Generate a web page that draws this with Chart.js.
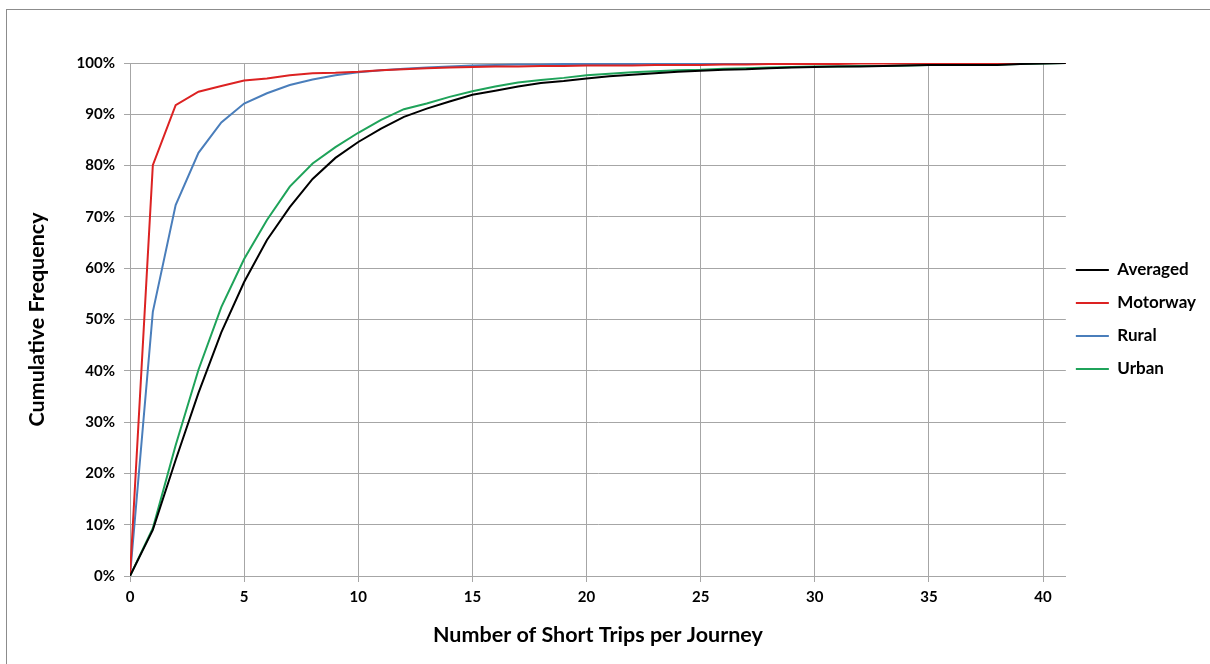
<!DOCTYPE html>
<html>
<head>
<meta charset="utf-8">
<script src="https://cdn.jsdelivr.net/npm/chart.js@4"></script>
<style>
  html, body { margin: 0; padding: 0; background: #fff; overflow: hidden; }
  #wrap { position: relative; width: 1210px; height: 664px; }
  #frame {
    position: absolute; left: 6px; top: 9px; width: 1400px; height: 900px;
    border: 1px solid #8c8c8c; pointer-events: none;
  }
  canvas { position: absolute; left: 0; top: 0; }
</style>
</head>
<body>
<div id="wrap">
  <div id="frame"></div>
  <canvas id="chart" width="1210" height="664"></canvas>
</div>
<script>
  // number of short trips per journey (x values)
  var tripCounts = [0, 1, 2, 3, 4, 5, 6, 7, 8, 9, 10, 11, 12, 13, 14, 15, 16, 17, 18, 19, 20,
                    21, 22, 23, 24, 25, 26, 27, 28, 29, 30, 31, 32, 33, 34, 35, 36, 37, 38, 39, 40, 41];

  // cumulative frequency, percent
  var averaged = [0, 9.0, 22.6, 35.7, 47.5, 57.3, 65.5, 71.9, 77.4, 81.5, 84.6, 87.2, 89.5, 91.1, 92.5,
                  93.8, 94.6, 95.4, 96.1, 96.5, 97.0, 97.4, 97.7, 98.0, 98.3, 98.5, 98.7, 98.8, 99.0,
                  99.1, 99.2, 99.3, 99.3, 99.4, 99.5, 99.6, 99.6, 99.6, 99.6, 99.8, 99.9, 100];
  var motorway = [0, 80.1, 91.8, 94.4, 95.5, 96.6, 97.0, 97.6, 98.0, 98.1, 98.3, 98.6, 98.8, 99.0, 99.1,
                  99.2, 99.3, 99.3, 99.4, 99.4, 99.5, 99.5, 99.5, 99.6, 99.6, 99.6, 99.7, 99.7, 99.8,
                  99.8, 99.8, 99.8, 99.9, 99.9, 99.9, 99.9, 99.9, 100, 100, 100, 100, 100];
  var rural    = [0, 51.5, 72.3, 82.5, 88.4, 92.1, 94.1, 95.7, 96.8, 97.6, 98.2, 98.6, 98.9, 99.1, 99.3,
                  99.5, 99.6, 99.7, 99.7, 99.8, 99.8, 99.8, 99.8, 99.9, 99.9, 99.9, 99.9, 99.9, 99.9,
                  100, 100, 100, 100, 100, 100, 100, 100, 100, 100, 100, 100, 100];
  var urban    = [0, 9.3, 25.5, 40.2, 52.4, 61.8, 69.4, 75.9, 80.4, 83.6, 86.4, 88.9, 91.0, 92.1, 93.4,
                  94.5, 95.4, 96.2, 96.7, 97.1, 97.6, 97.9, 98.2, 98.4, 98.6, 98.7, 98.9, 99.0, 99.1,
                  99.2, 99.3, 99.3, 99.4, 99.4, 99.5, 99.6, 99.6, 99.7, 99.7, 99.8, 99.9, 100];

  var seriesNames  = ['Averaged', 'Motorway', 'Rural', 'Urban'];
  var seriesValues = [averaged, motorway, rural, urban];
  var seriesColors = ['#000000', '#dc2222', '#4a7ebb', '#1fa35a'];

  var FONT = 'Lato';
  var GRID = '#a6a6a6';

  function toPoints(values) {
    return values.map(function (v, i) { return { x: tripCounts[i], y: v }; });
  }

  var datasets = seriesNames.map(function (name, i) {
    return {
      label: name,
      data: toPoints(seriesValues[i]),
      borderColor: seriesColors[i],
      backgroundColor: seriesColors[i],
      borderWidth: 2,
      pointRadius: 0,
      tension: 0
    };
  });

  // pull the legend a little closer to the plot (Excel-like gap)
  var legendNudge = {
    id: 'legendNudge',
    beforeDraw: function (chart) {
      if (chart.legend) chart.legend.left = chart.chartArea.right - 6;
    }
  };

  new Chart(document.getElementById('chart'), {
    type: 'line',
    data: { datasets: datasets },
    plugins: [legendNudge],
    options: {
      responsive: false,
      animation: false,
      layout: { padding: { left: 16, top: 63, right: -2, bottom: 10 } },
      plugins: {
        tooltip: { enabled: false },
        legend: {
          position: 'right',
          fullSize: false,
          labels: {
            color: '#000',
            font: { family: FONT, size: 17, weight: 'bold' },
            boxWidth: 33,
            boxHeight: 2,
            padding: 16,
            generateLabels: function (chart) {
              var items = Chart.defaults.plugins.legend.labels.generateLabels(chart);
              items.forEach(function (it) { it.lineWidth = 0; });
              return items;
            }
          }
        }
      },
      scales: {
        x: {
          type: 'linear',
          min: 0,
          max: 41,
          afterFit: function (scale) { scale.height = 78; },
          grid: { color: GRID, tickLength: 6 },
          border: { color: GRID },
          ticks: {
            stepSize: 5,
            includeBounds: false,
            color: '#000',
            padding: 6,
            maxRotation: 0,
            font: { family: FONT, size: 15, weight: 'bold' }
          },
          title: {
            display: true,
            text: 'Number of Short Trips per Journey',
            color: '#000',
            font: { family: FONT, size: 21.5, weight: 'bold' },
            padding: { top: 0, bottom: 6 }
          }
        },
        y: {
          min: 0,
          max: 100,
          afterFit: function (scale) { scale.width = 114; },
          grid: { color: GRID, tickLength: 6 },
          border: { color: GRID },
          ticks: {
            stepSize: 10,
            color: '#000',
            padding: 9,
            font: { family: FONT, size: 15, weight: 'bold' },
            callback: function (v) { return v + '%'; }
          },
          title: {
            display: true,
            text: 'Cumulative Frequency',
            color: '#000',
            font: { family: FONT, size: 21.5, weight: 'bold' },
            padding: { top: 8, bottom: 0 }
          }
        }
      }
    }
  });
</script>
</body>
</html>
